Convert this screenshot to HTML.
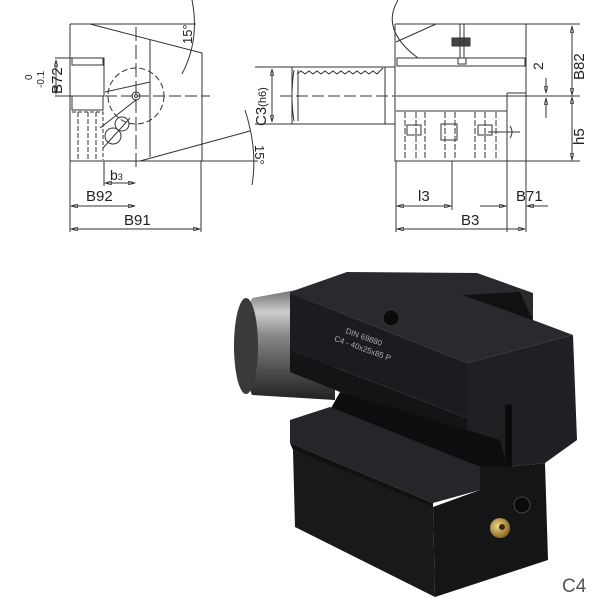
<!DOCTYPE html>
<html><head><style>
html,body{margin:0;padding:0;background:#fff;width:600px;height:600px;overflow:hidden}
text{font-family:"Liberation Sans",sans-serif;fill:#222}
</style></head><body>
<svg width="600" height="600" viewBox="0 0 600 600" xmlns="http://www.w3.org/2000/svg">
<defs>
<marker id="a" viewBox="0 0 10 6" refX="10" refY="3" markerWidth="8" markerHeight="4" orient="auto-start-reverse"><path d="M0,0 L10,3 L0,6 z" fill="none" stroke="#333" stroke-width="1"/></marker>
<linearGradient id="sh" x1="0" y1="0" x2="0" y2="1"><stop offset="0" stop-color="#555"/><stop offset="0.25" stop-color="#ccc"/><stop offset="0.45" stop-color="#888"/><stop offset="0.8" stop-color="#444"/><stop offset="1" stop-color="#222"/></linearGradient>
<radialGradient id="br" cx="0.4" cy="0.4" r="0.6"><stop offset="0" stop-color="#f0d890"/><stop offset="1" stop-color="#8a6a20"/></radialGradient>
</defs>
<g stroke="#333" stroke-width="1" fill="none">
<!-- LEFT VIEW -->
<path d="M70,24 H196 M90,24 L202,53 V161 M70,24 V161 H258"/>
<line x1="150" y1="40" x2="150" y2="157"/>
<line x1="140" y1="161" x2="250" y2="131"/>
<rect x="72" y="58" width="31" height="7"/>
<path d="M70,58 H104 V96 H70 M72,96 V110 H103 V96"/>
<path d="M72,112 H103 V160" stroke-dasharray="4,2"/>
<path d="M78,112 V160 M88,112 V160 M96,112 V160" stroke-dasharray="5,2"/>
<line x1="105" y1="96" x2="210" y2="96" stroke-dasharray="12,4"/>
<line x1="136" y1="27" x2="136" y2="170" stroke-dasharray="14,4"/>
<circle cx="136" cy="96" r="28" stroke-dasharray="6,3"/>
<circle cx="136" cy="96" r="4"/><circle cx="136" cy="96" r="1.5"/>
<line x1="105" y1="92" x2="150" y2="82"/>
<circle cx="122" cy="124" r="7"/><circle cx="113" cy="136" r="8"/>
<line x1="100" y1="128" x2="136" y2="100"/><line x1="103" y1="148" x2="130" y2="118"/>
<line x1="55" y1="58" x2="70" y2="58"/><line x1="55" y1="96" x2="70" y2="96"/>
<line x1="56" y1="60" x2="56" y2="94" marker-start="url(#a)" marker-end="url(#a)"/>
<line x1="70" y1="161" x2="70" y2="232"/><line x1="201" y1="161" x2="201" y2="232"/>
<line x1="104" y1="161" x2="104" y2="186"/>
<line x1="105" y1="183" x2="135" y2="183" marker-start="url(#a)" marker-end="url(#a)"/>
<line x1="71" y1="206" x2="135" y2="206" marker-start="url(#a)" marker-end="url(#a)"/>
<line x1="71" y1="229" x2="200" y2="229" marker-start="url(#a)" marker-end="url(#a)"/>
<path d="M192,0 Q200,40 182,74"/>
<path d="M245,110 Q258,150 252,185"/>
<!-- SHANK -->
<path d="M292,67 H395 M292,124 H395 M292,67 V124"/>
<path d="M294,70 Q290,96 294,121 M298,70 V121"/>
<path d="M297,74 l4,-3 l4,3 l4,-3 l4,3 l4,-3 l4,3 l4,-3 l4,3 l4,-3 l4,3 l4,-3 l4,3 l4,-3 l4,3 l4,-3 l4,3 l4,-3 l4,3 l4,-3 l4,3 l6,-6"/>
<line x1="385" y1="67" x2="385" y2="124"/>
<line x1="280" y1="96" x2="395" y2="96" stroke-dasharray="12,4"/>
<line x1="255" y1="67" x2="292" y2="67"/><line x1="255" y1="124" x2="292" y2="124"/>
<line x1="272" y1="69" x2="272" y2="122" marker-start="url(#a)" marker-end="url(#a)"/>
<!-- RIGHT VIEW -->
<path d="M395,24 H580 M395,24 V161 H580 M526,24 V232"/>
<path d="M396,42 L436,24"/>
<path d="M398,0 Q380,30 418,58"/>
<rect x="397" y="58" width="128" height="8"/>
<path d="M396,96 H580 M396,111 H507 M507,93 H526 M507,93 V232"/>
<rect x="452" y="38" width="18" height="8" fill="#444"/>
<path d="M460,24 V58 M464,24 V58"/>
<rect x="458" y="58" width="8" height="6"/>
<path d="M405,112 v48 M416,112 v48 M425,112 v48 M445,112 v48 M455,112 v48 M475,112 v48 M485,112 v48 M496,112 v48" stroke-dasharray="6,2"/>
<rect x="407" y="125" width="14" height="10"/><rect x="441" y="124" width="16" height="16"/><rect x="478" y="125" width="14" height="10"/>
<path d="M488,132 H520 M510,126 Q514,132 510,138"/>
<line x1="452" y1="161" x2="452" y2="210"/>
<line x1="396" y1="161" x2="396" y2="232"/>
<line x1="397" y1="206" x2="451" y2="206" marker-start="url(#a)" marker-end="url(#a)"/>
<line x1="480" y1="206" x2="506" y2="206" marker-end="url(#a)"/>
<line x1="527" y1="206" x2="548" y2="206" marker-start="url(#a)"/>
<line x1="397" y1="229" x2="525" y2="229" marker-start="url(#a)" marker-end="url(#a)"/>
<line x1="572" y1="26" x2="572" y2="95" marker-start="url(#a)" marker-end="url(#a)"/>
<line x1="572" y1="97" x2="572" y2="160" marker-start="url(#a)" marker-end="url(#a)"/>
<line x1="546" y1="78" x2="546" y2="93" marker-end="url(#a)"/>
<line x1="546" y1="98" x2="546" y2="118" marker-start="url(#a)"/>
</g>
<g font-size="14">
<text transform="translate(62,94) rotate(-90)" font-size="15">B72</text>
<text transform="translate(44,88) rotate(-90)" font-size="10">-0.1</text>
<text transform="translate(32,80) rotate(-90)" font-size="10">0</text>
<text x="110" y="180" font-size="14">b<tspan font-size="9">3</tspan></text>
<text x="86" y="201" font-size="15">B92</text>
<text x="124" y="225" font-size="15">B91</text>
<text transform="translate(192,44) rotate(-90)" font-size="13">15°</text>
<text transform="translate(255,145) rotate(90)" font-size="13">15°</text>
<text transform="translate(266,126) rotate(-90)" font-size="15">C3<tspan font-size="11">(h6)</tspan></text>
<text x="418" y="201" font-size="15">l3</text>
<text x="516" y="201" font-size="15">B71</text>
<text x="461" y="225" font-size="15">B3</text>
<text transform="translate(584,80) rotate(-90)" font-size="15">B82</text>
<text transform="translate(543,70) rotate(-90)" font-size="14">2</text>
<text transform="translate(584,145) rotate(-90)" font-size="15">h5</text>
</g>
<!-- PHOTO -->
<path d="M252,298 L335,283 L335,400 L252,395 Q232,346 252,298 z" fill="url(#sh)"/>
<ellipse cx="246" cy="346" rx="12" ry="48" fill="#3a3a3a"/>
<path d="M290,292 L347,272 L477,273 L533,293 L533,320 L573,335 L467,363 L290,293 z" fill="#2a2a2e"/>
<path d="M462,295 L520,292 L533,320 z" fill="#111"/>
<path d="M290,293 L467,363 L467,418 L290,350 z" fill="#1c1c20"/>
<path d="M290,350 L467,418 L467,436 L340,392 L290,372 z" fill="#141416"/>
<path d="M467,363 L573,335 L577,440 L545,463 L507,467 L467,436 z" fill="#202024"/>
<path d="M505,405 L512,404 L512,468 L505,467 z" fill="#0c0c0c"/>
<path d="M340,392 L500,440 L507,467 L480,467 L330,410 z" fill="#0e0e10"/>
<path d="M290,420 L330,407 L480,467 L480,490 L433,503 L290,443 z" fill="#26262a"/>
<path d="M290,443 L433,503 L433,510 L293,450 z" fill="#111"/>
<path d="M293,450 L433,507 L435,597 L295,527 z" fill="#19191c"/>
<path d="M433,507 L480,490 L480,467 L507,467 L545,463 L548,560 L435,597 z" fill="#151518"/>
<circle cx="391" cy="318" r="8" fill="#0a0a0a" stroke="#333"/>
<circle cx="522" cy="505" r="8" fill="#0a0a0a" stroke="#444"/>
<circle cx="500" cy="528" r="10" fill="url(#br)"/>
<circle cx="502" cy="527" r="3" fill="#3a2a10"/>
<g fill="#aaa" font-size="8" transform="translate(345,333) rotate(20)">
<text x="0" y="0" style="fill:#aaa">DIN 69880</text>
<text x="-8" y="11" style="fill:#aaa">C4 - 40x25x85 P</text>
</g>
<text x="562" y="592" font-size="19" style="fill:#555">C4</text>
</svg>
</body></html>
